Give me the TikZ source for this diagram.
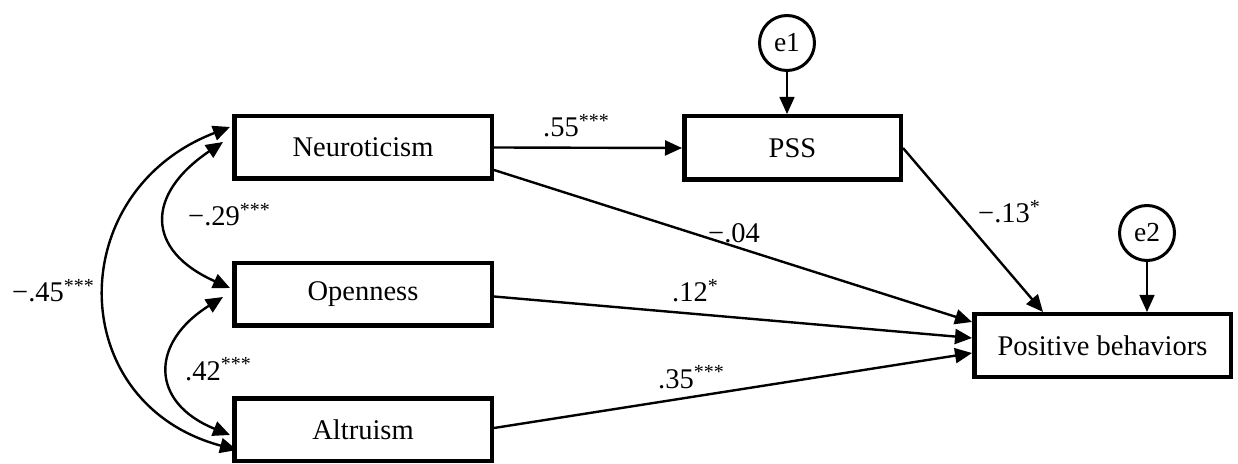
\documentclass[tikz,border=0pt]{standalone}
\usepackage{fontspec}
\setmainfont{Liberation Serif}
\usetikzlibrary{arrows.meta}
\begin{document}
\begin{tikzpicture}[x=1pt,y=1pt,
  txt/.style={font=\fontsize{28.5}{34}\selectfont},
  box/.style={draw, line width=4.5pt, inner sep=0pt, txt},
  err/.style={draw, circle, line width=3pt, minimum size=55pt, inner sep=0pt, font=\fontsize{27.5}{32}\selectfont},
  tip/.style={-{Triangle[length=17pt,width=15pt]}},
  path/.style={line width=2.4pt, tip},
  erpath/.style={line width=1.5pt, tip},
  cov/.style={line width=2.4pt, {Triangle[length=17pt,width=15pt]}-{Triangle[length=17pt,width=15pt]}},
  lab/.style={anchor=base west, inner sep=0pt, txt}]
\useasboundingbox (0,0) rectangle (1238,463);
% boxes
\node[box, minimum width=257.5pt, minimum height=62.5pt] (N) at (363,315.5) {Neuroticism};
\node[box, minimum width=257.5pt, minimum height=62.5pt] (O) at (363,168.5) {Openness};
\node[box, minimum width=257.5pt, minimum height=62.5pt] (A) at (363,33.5) {Altruism};
\node[box, minimum width=216.5pt, minimum height=63.5pt] (P) at (792.5,315) {PSS};
\node[box, minimum width=256.5pt, minimum height=62.5pt] (B) at (1102.5,117.5) {Positive behaviors};
% error terms
\node[err] (e1) at (787,420) {e1};
\node[err] (e2) at (1147,230) {e2};
% paths
\draw[path] (N.east) -- (P.west);
\draw[path] ([yshift=-22.5pt]N.east) -- ([yshift=23.5pt]B.west);
\draw[path] ([yshift=-2pt]O.east) -- ([yshift=7.5pt]B.west);
\draw[path] ([yshift=1.5pt]A.east) -- ([yshift=-7.5pt]B.west);
\draw[path] (P.east) -- ([xshift=-59.5pt]B.north);
\draw[erpath] (e1.south) -- (e1.south |- P.north);
\draw[erpath] (e2.south) -- (e2.south |- B.north);
% covariances
\draw[cov] ([xshift=-2pt,yshift=20.5pt]N.west) to[out=201,in=165,looseness=1.42] ([xshift=5pt,yshift=-20.5pt]A.west);
\draw[cov] ([xshift=-9pt,yshift=5.5pt]N.west) to[out=214,in=156,looseness=1.63] ([xshift=-2pt,yshift=6.5pt]O.west);
\draw[cov] ([xshift=-9pt,yshift=-2.5pt]O.west) to[out=212,in=158,looseness=1.6] ([xshift=-2pt,yshift=-5.5pt]A.west);
% labels
\node[lab] (l1) at (543,326) {.55\textsuperscript{***}};
\node[lab] (l2) at (708,220) {−.04};
\node[lab] (l3) at (672,161) {.12\textsuperscript{*}};
\node[lab] (l4) at (658,75) {.35\textsuperscript{***}};
\node[lab] (l5) at (978,240) {−.13\textsuperscript{*}};
\node[lab] (l6) at (188,237) {−.29\textsuperscript{***}};
\node[lab] (l7) at (185,83) {.42\textsuperscript{***}};
\node[lab] (l8) at (12,161) {−.45\textsuperscript{***}};
\end{tikzpicture}
\end{document}
